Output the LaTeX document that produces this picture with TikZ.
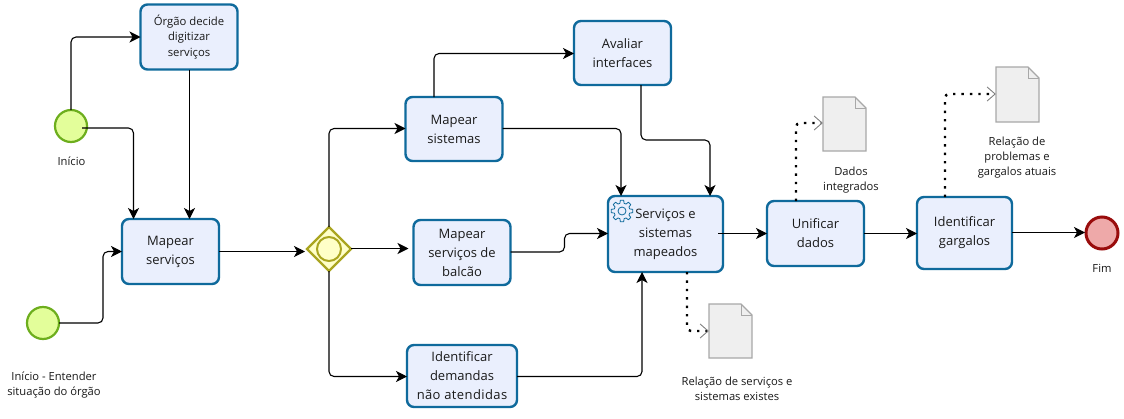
\documentclass[tikz,border=0pt]{standalone}
\usepackage{fontspec}
\setmainfont{Open Sans}
\usetikzlibrary{arrows.meta,shapes.geometric}
\definecolor{taskline}{HTML}{0F6A9C}
\definecolor{taskfill}{HTML}{EAEFFD}
\definecolor{startline}{HTML}{6DAE1D}
\definecolor{startfill}{HTML}{E3FE9A}
\definecolor{gateline}{HTML}{AAA520}
\definecolor{gatefill}{HTML}{FFFFC8}
\definecolor{endline}{HTML}{990C0C}
\definecolor{endfill}{HTML}{EEA9A9}
\definecolor{docline}{HTML}{A8A8A8}
\definecolor{docfill}{HTML}{EFEFEF}
\definecolor{txt}{HTML}{1A1A1A}
\tikzset{
 x=1pt,y=-1pt,
 taskbox/.style={draw=taskline,fill=taskfill,line width=2.4pt,rounded corners=7pt,inner sep=0pt,outer sep=0pt,align=center,text=txt,font=\fontsize{13}{19}\selectfont},
 startev/.style={circle,draw=startline,fill=startfill,line width=2.2pt,minimum size=32pt,inner sep=0pt,outer sep=0pt},
 endev/.style={circle,draw=endline,fill=endfill,line width=3pt,minimum size=32pt,inner sep=0pt,outer sep=0pt},
 gate/.style={diamond,aspect=1,draw=gateline,fill=gatefill,line width=2.2pt,minimum width=44pt,minimum height=44pt,inner sep=0pt,outer sep=0pt},
 gatering/.style={circle,draw=gateline,line width=2pt,minimum size=24pt,inner sep=0pt,outer sep=0pt},
 lbl/.style={align=center,text=txt,inner sep=0pt,font=\fontsize{11.2}{15}\selectfont},
 flow/.style={black,line width=1.1pt,rounded corners=5pt,-{Stealth[length=11pt,width=11pt,inset=3pt]}},
 assoc/.style={black,line width=2.4pt,dash pattern=on 2.4pt off 6pt,rounded corners=4pt,-{Straight Barb[color=gray,line width=.9pt,length=8pt,width=14pt]}},
 docbody/.style={draw=docline,fill=docfill,line width=1.2pt,line join=miter},
}
\begin{document}
\begin{tikzpicture}
\useasboundingbox (0,0) rectangle (1124,418);
\fill[white] (0,0) rectangle (1124,418);
% tasks
\node[taskbox,minimum width=97pt,minimum height=65pt,font=\fontsize{11.3}{15.5}\selectfont] (orgao) at (189,37) {Órgão decide\\digitizar\\serviços};
\node[taskbox,minimum width=97pt,minimum height=65pt] (mserv) at (170.5,251.5) {Mapear\\serviços};
\node[taskbox,minimum width=97pt,minimum height=64pt] (msist) at (454,129) {Mapear\\sistemas};
\node[taskbox,minimum width=97pt,minimum height=64pt] (aval) at (622.5,53) {Avaliar\\interfaces};
\node[taskbox,minimum width=97pt,minimum height=65pt] (balc) at (462,252.5) {Mapear\\serviços de\\balcão};
\node[taskbox,minimum width=110pt,minimum height=62pt] (dem) at (462,376) {Identificar\\demandas\\{\addfontfeature{LetterSpace=3}não atendidas}};
\node[taskbox,minimum width=115pt,minimum height=76pt] (sm) at (665.5,234) {Serviços e\\sistemas\\mapeados};
\node[taskbox,minimum width=97pt,minimum height=65pt] (unif) at (815.5,233.5) {Unificar\\dados};
\node[taskbox,minimum width=95pt,minimum height=72pt] (garg) at (964.5,233) {Identificar\\gargalos};
% events and gateway
\node[startev] (ini) at (71,126) {};
\node[startev] (ini2) at (43,323) {};
\node[endev] (fim) at (1102,233) {};
\node[gate] (gw) at (329,249) {};
\node[gatering] (gwr) at (329,249) {};
% documents
\path[docbody] (709,304) -- (741,304) -- (752,315) -- (752,358) -- (709,358) -- cycle;
\draw[docline,line width=1pt] (741,304) -- (741,315) -- (752,315);
\node[inner sep=0pt,minimum width=43pt,minimum height=54pt] (d1) at (730.5,331) {};
\path[docbody] (823,97) -- (855,97) -- (866,108) -- (866,151) -- (823,151) -- cycle;
\draw[docline,line width=1pt] (855,97) -- (855,108) -- (866,108);
\node[inner sep=0pt,minimum width=43pt,minimum height=54pt] (d2) at (844.5,124) {};
\path[docbody] (996,67) -- (1028,67) -- (1039,78) -- (1039,122) -- (996,122) -- cycle;
\draw[docline,line width=1pt] (1028,67) -- (1028,78) -- (1039,78);
\node[inner sep=0pt,minimum width=43pt,minimum height=55pt] (d3) at (1017.5,94.5) {};
% labels
\node[lbl] (l1) at (71.5,161) {Início};
\node[lbl] (l2) at (54,385) {Início - Entender\\situação do órgão};
\node[lbl] (l3) at (1102,268) {Fim};
\node[lbl] (l4) at (851,180) {Dados\\integrados};
\node[lbl] (l5) at (1017,158) {Relação de\\problemas e\\gargalos atuais};
\node[lbl] (l6) at (737,389) {Relação de serviços e\\sistemas existes};
% flows
\draw[flow] (ini.north) |- (orgao.west);
\draw[flow] ([xshift=-5pt,yshift=-2pt]ini.east) -| ([xshift=11.5pt]mserv.north west);
\draw[flow] ([xshift=.5pt]orgao.south) -- ([xshift=.5pt]orgao.south |- mserv.north);
\draw[flow] (ini2.east) -| ([xshift=-19pt]mserv.west) -- (mserv.west);
\draw[flow] (mserv.east) -- ([xshift=-2pt]gw.west |- mserv.east);
\draw[flow] (gw.north) |- ([yshift=.5pt]msist.west);
\draw[flow] ([yshift=.5pt]gw.east) -- ([xshift=-5pt,yshift=.5pt]balc.west |- gw.east);
\draw[flow] (gw.south) |- ([yshift=-.5pt]dem.west);
\draw[flow] ([xshift=-20pt]msist.north) |- ([yshift=-.5pt]aval.west);
\draw[flow] ([yshift=.5pt]msist.east) -| ([xshift=13pt]sm.north west);
\draw[flow] ([xshift=18.5pt]aval.south) -- ++(0,55) -| ([xshift=-13pt]sm.north east);
\draw[flow] ([yshift=.5pt]balc.east) -- ++(54,0) |- ([yshift=.5pt]sm.west);
\draw[flow] ([yshift=-.5pt]dem.east) -| ([xshift=-23.5pt]sm.south);
\draw[flow] ([xshift=-5pt,yshift=.5pt]sm.east) -- (unif.west);
\draw[flow] (unif.east) -- (garg.west |- unif.east);
\draw[flow] ([yshift=.5pt]garg.east) -- ([xshift=-1pt,yshift=.5pt]fim.west);
% associations
\draw[assoc] ([xshift=21.5pt]sm.south) |- (d1.west);
\draw[assoc] ([xshift=-19.5pt]unif.north) |- ([yshift=1pt]d2.west);
\draw[assoc] ([xshift=-19.5pt]garg.north) |- ([yshift=.5pt]d3.west);
% gear marker
\begin{scope}[shift={(622,211)}]
\draw[taskline,line width=.8pt,fill=taskfill,line join=round]
 (0:10.8pt) \foreach \a in {0,45,...,315}{
   -- (\a+9:10.8pt) -- (\a+15:8pt) -- (\a+30:8pt) -- (\a+36:10.8pt) -- (\a+45:10.8pt)
 } -- cycle;
\draw[taskline,line width=.8pt] (0,0) circle (4pt);
\end{scope}
\end{tikzpicture}
\end{document}
